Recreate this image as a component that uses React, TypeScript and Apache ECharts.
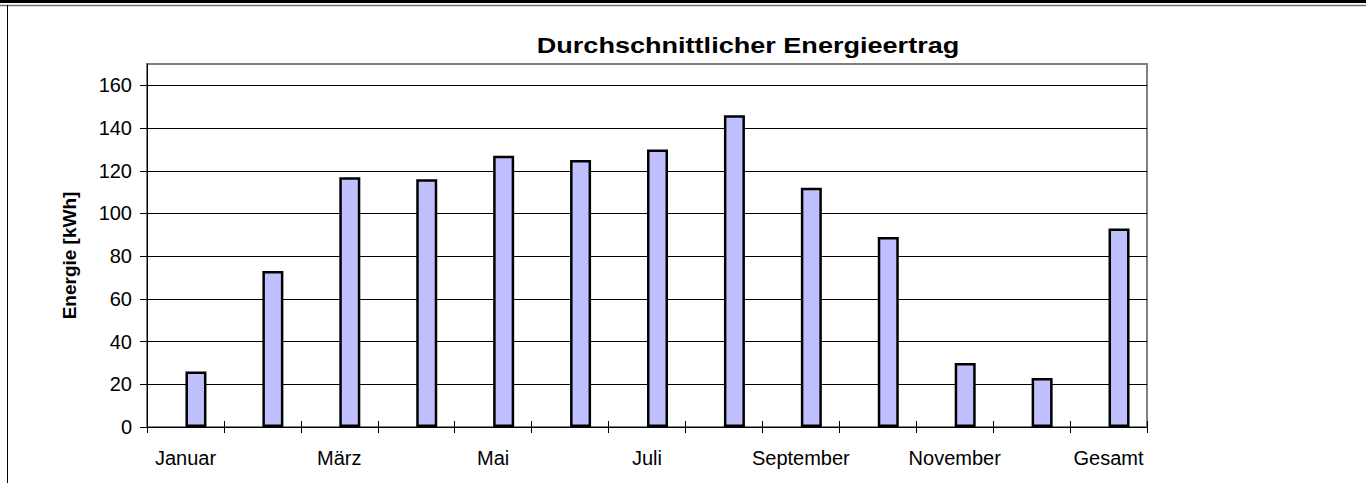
import React, { useEffect, useRef } from "react";
import * as echarts from "echarts";

const categories = ["Januar", "Februar", "März", "April", "Mai", "Juni", "Juli", "August", "September", "Oktober", "November", "Dezember", "Gesamt"];
const energie = [26, 73, 117, 116, 127, 125, 130, 146, 112, 89, 30, 23, 93];
const leer = categories.map(() => null);
const yTicks = [0, 20, 40, 60, 80, 100, 120, 140, 160];
const titleText = "Durchschnittlicher Energieertrag";
const yName = "Energie [kWh]";

const FONT = "'Liberation Sans', Arial, sans-serif";

export default function App() {
  const ref = useRef<HTMLDivElement>(null);
  useEffect(() => {
    if (!ref.current) return;
    const chart = echarts.init(ref.current, undefined, { renderer: "svg" });
    const splitColors = yTicks.map(() => "#000").concat(["#808080"]);
    chart.setOption({
      animation: false,
      backgroundColor: "#fff",
      textStyle: { fontFamily: FONT },
      grid: {
        left: 147,
        right: 219,
        top: 64,
        bottom: 56,
        show: true,
        borderColor: "#808080",
        borderWidth: 2,
        backgroundColor: "transparent",
      },
      xAxis: [
        {
          type: "category",
          data: categories,
          boundaryGap: true,
          axisLine: { lineStyle: { color: "#000", width: 1 } },
          axisTick: { show: true, interval: 0, length: 6, inside: false, lineStyle: { color: "#000" } },
          axisLabel: { interval: 1, color: "#000", fontSize: 20, margin: 21, fontFamily: FONT },
          splitLine: { show: false },
        },
        {
          type: "category",
          data: categories,
          position: "bottom",
          boundaryGap: true,
          axisLine: { show: false },
          axisTick: { show: true, interval: 0, length: 6, inside: true, lineStyle: { color: "#000" } },
          axisLabel: { show: false },
          splitLine: { show: false },
        },
      ],
      yAxis: {
        type: "value",
        min: 0,
        max: 170,
        interval: 20,
        name: yName,
        nameLocation: "middle",
        nameRotate: 90,
        nameGap: 68,
        nameTextStyle: { fontWeight: "bold", fontSize: 19, color: "#000", fontFamily: FONT, padding: [0, 20, 0, 0] },
        axisLine: { show: true, lineStyle: { color: "#000", width: 1 } },
        axisTick: { show: true, length: 7, lineStyle: { color: "#000" } },
        axisLabel: {
          color: "#000",
          fontSize: 20,
          margin: 15,
          fontFamily: FONT,
          showMaxLabel: false,
          formatter: (v: number) => (yTicks.includes(v) ? String(v) : ""),
        },
        splitLine: { show: true, lineStyle: { color: splitColors, width: 1 } },
      },
      series: [
        {
          type: "bar",
          data: leer,
          barWidth: 21,
          barGap: "0%",
          itemStyle: { color: "#c0c0ff" },
        },
        {
          type: "bar",
          data: energie,
          barWidth: 21,
          barGap: "0%",
          itemStyle: { color: "#c0c0ff", borderColor: "#000", borderWidth: 2.5 },
        },
      ],
      graphic: [
        { type: "rect", left: 0, top: 0, shape: { x: 0, y: 0, width: 1366, height: 3 }, style: { fill: "#000" }, z: 10 },
        { type: "line", shape: { x1: 0, y1: 5.5, x2: 1366, y2: 5.5 }, style: { stroke: "#707070", lineWidth: 1.5 }, z: 10 },
        { type: "line", shape: { x1: 7.5, y1: 5, x2: 7.5, y2: 483 }, style: { stroke: "#000", lineWidth: 1 }, z: 10 },
        {
          type: "text",
          x: 748,
          y: 45,
          scaleX: 1.23,
          style: {
            text: titleText,
            fontFamily: FONT,
            fontWeight: "bold",
            fontSize: 22,
            fill: "#000",
            textAlign: "center",
            textVerticalAlign: "middle",
          },
          z: 10,
        },
      ],
    });
    return () => chart.dispose();
  }, []);
  return <div ref={ref} style={{ position: "fixed", left: 0, top: 0, width: 1366, height: 483 }} />;
}
